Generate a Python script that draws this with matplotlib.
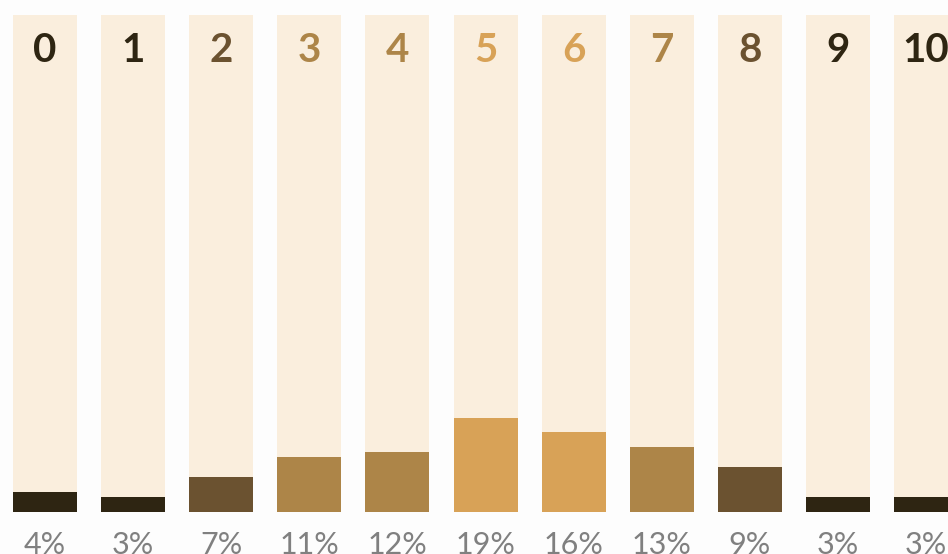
import matplotlib.pyplot as plt

# Данні: оцінки 0..10 і частка відповідей (%)
scores = ["0", "1", "2", "3", "4", "5", "6", "7", "8", "9", "10"]
shares = [4, 3, 7, 11, 12, 19, 16, 13, 9, 3, 3]
pct_labels = ["4%", "3%", "7%", "11%", "12%", "19%", "16%", "13%", "9%", "3%", "3%"]

# Кольори за групами
dark = "#2E2512"
brown = "#6B5230"
tan = "#AD8548"
gold = "#D8A257"
colors = [dark, dark, brown, tan, tan, gold, gold, tan, brown, dark, dark]

x = list(range(len(scores)))
w = 64 / 88.1

fig = plt.figure(figsize=(9.48, 5.54), dpi=100, facecolor="#FDFDFD")
ax = fig.add_axes([0, 0, 1, 1])
ax.set_facecolor("#FDFDFD")

# Фонові стовпці (100%) і заповнені значення
ax.bar(x, [100] * len(x), width=w, color="#FAEEDD", zorder=1)
ax.bar(x, shares, width=w, color=colors, zorder=2)

for i in x:
    ax.text(i, 90.5, scores[i], ha="center", va="baseline",
            fontsize=29, fontweight="bold", color=colors[i], family="Lato")
    ax.text(i, -8.4, pct_labels[i], ha="center", va="baseline",
            fontsize=22, fontweight="normal", color="#808080", family="Lato")

ax.set_xlim(-45 / 88.1, -45 / 88.1 + 948 / 88.1)
ax.set_ylim(-42 / 4.97, 100 + 15 / 4.97)
ax.axis("off")

plt.savefig("out.png", dpi=100, facecolor=fig.get_facecolor())
